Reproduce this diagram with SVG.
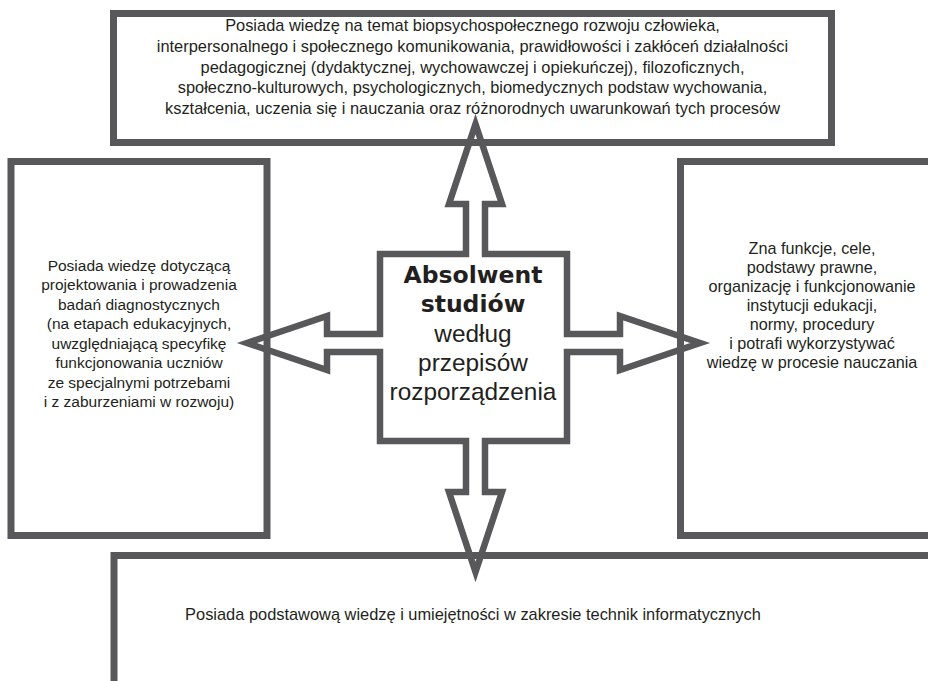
<svg xmlns="http://www.w3.org/2000/svg" width="928" height="681" viewBox="0 0 928 681">
<style>
.box{fill:none;stroke:#58585a;stroke-width:7}
.arrow{fill:#ffffff;stroke:#58585a;stroke-width:6.5;stroke-linejoin:miter;stroke-miterlimit:10}
.t{font-family:"Liberation Sans",Arial,sans-serif;fill:#231f20;text-anchor:middle}
.s1{font-size:16.4px}
.s2{font-size:15.5px}
.s3{font-size:16.2px}
.cb{font-family:"DejaVu Sans","Liberation Sans",sans-serif;font-weight:bold;font-size:23.5px;fill:#231f20;text-anchor:middle}
.cr{font-family:"Liberation Sans",Arial,sans-serif;font-size:24.4px;fill:#231f20;text-anchor:middle}
</style>
<rect width="928" height="681" fill="#ffffff"/>
<g id="connectors">
<path class="arrow" d="M380,254 L466,254 L466,204 L449,204 L475.5,124 L502,204 L485,204 L485,254 L567,254 L567,334 L620,334 L620,316 L700,343 L620,370 L620,352 L567,352 L567,441 L485,441 L485,492 L502,492 L475.5,572 L449,492 L466,492 L466,441 L380,441 L380,352 L327,352 L327,370 L247,343 L327,316 L327,334 L380,334 Z"/>
</g>
<g id="node-center">
<text class="cb" x="473" y="283">Absolwent</text>
<text class="cb" x="473" y="312">studiów</text>
<text class="cr" x="473" y="342">według</text>
<text class="cr" x="473" y="371">przepisów</text>
<text class="cr" x="473" y="400">rozporządzenia</text>
</g>
<g id="node-top">
<rect class="box" x="113.5" y="13.5" width="718" height="129"/>
<text class="t s1" x="472.5" y="31">Posiada wiedzę na temat biopsychospołecznego rozwoju człowieka,</text>
<text class="t s1" x="472.5" y="52">interpersonalnego i społecznego komunikowania, prawidłowości i zakłóceń działalności</text>
<text class="t s1" x="472.5" y="72.5">pedagogicznej (dydaktycznej, wychowawczej i opiekuńczej), filozoficznych,</text>
<text class="t s1" x="472.5" y="93">społeczno-kulturowych, psychologicznych, biomedycznych podstaw wychowania,</text>
<text class="t s1" x="472.5" y="114">kształcenia, uczenia się i nauczania oraz różnorodnych uwarunkowań tych procesów</text>
</g>
<g id="node-left">
<rect class="box" x="11" y="161.5" width="256" height="374"/>
<text class="t s2" x="139" y="270.5">Posiada wiedzę dotyczącą</text>
<text class="t s2" x="139" y="290">projektowania i prowadzenia</text>
<text class="t s2" x="139" y="309.5">badań diagnostycznych</text>
<text class="t s2" x="139" y="329">(na etapach edukacyjnych,</text>
<text class="t s2" x="139" y="348.5">uwzględniającą specyfikę</text>
<text class="t s2" x="139" y="368">funkcjonowania uczniów</text>
<text class="t s2" x="139" y="387.5">ze specjalnymi potrzebami</text>
<text class="t s2" x="139" y="407">i z zaburzeniami w rozwoju)</text>
</g>
<g id="node-right">
<rect class="box" x="680.5" y="161.5" width="260" height="374"/>
<text class="t s3" x="812" y="253.5">Zna funkcje, cele,</text>
<text class="t s3" x="812" y="272.5">podstawy prawne,</text>
<text class="t s3" x="812" y="291.5">organizację i funkcjonowanie</text>
<text class="t s3" x="812" y="310.5">instytucji edukacji,</text>
<text class="t s3" x="812" y="329.5">normy, procedury</text>
<text class="t s3" x="812" y="348.5">i potrafi wykorzystywać</text>
<text class="t s3" x="812" y="367.5">wiedzę w procesie nauczania</text>
</g>
<g id="node-bottom">
<rect class="box" x="114" y="555.5" width="830" height="140"/>
<text class="t s1" x="473" y="620">Posiada podstawową wiedzę i umiejętności w zakresie technik informatycznych</text>
</g>
</svg>
